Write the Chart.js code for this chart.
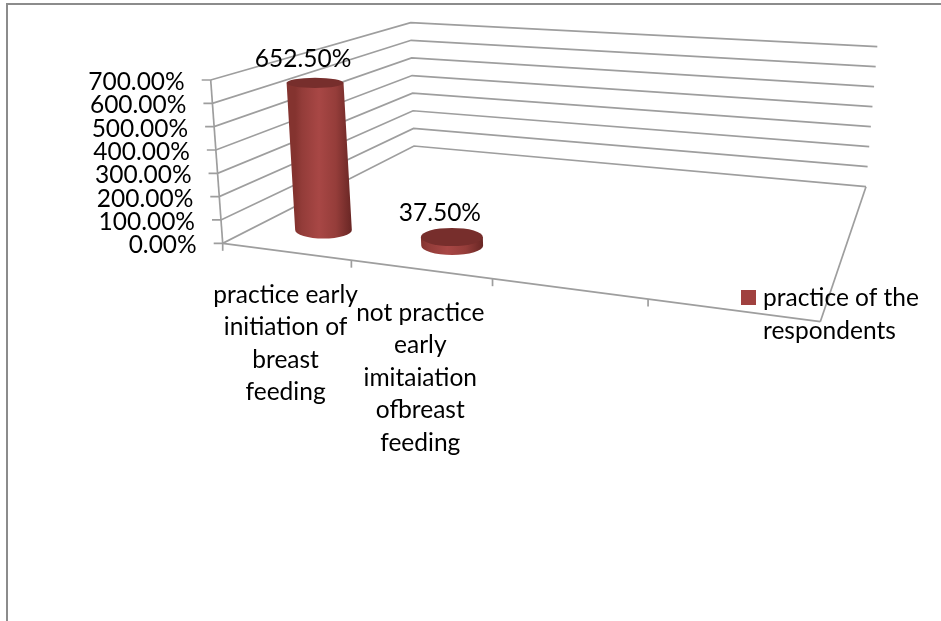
<!DOCTYPE html>
<html lang="en">
<head>
    <meta charset="UTF-8">
    <title>Practice of early initiation of breast feeding</title>
    <script src="https://cdn.jsdelivr.net/npm/chart.js"></script>
    <style>
        html, body { margin: 0; padding: 0; background: #fff; }
        canvas { display: block; }
    </style>
</head>
<body>
    <canvas id="chartCanvas" width="941" height="621"></canvas>

    <script>
        const categories = [
            ['practice early', 'initiation of', 'breast', 'feeding'],
            ['not practice', 'early', 'imitaiation', 'ofbreast', 'feeding'],
            '',
            ''
        ];
        const seriesName = ['practice of the', 'respondents'];
        const seriesValues = [652.5, 37.5, null, null];
        const tickLabels = ['0.00%', '100.00%', '200.00%', '300.00%', '400.00%', '500.00%', '600.00%', '700.00%'];

        const FONT = '24.5px Lato, sans-serif';
        const LINE_COLOR = '#9e9e9e';
        const BAR_COLOR = '#a0413f';

        // corners of the box, in order: front left, front right, back right, back left
        const floorCorners = [[222.7, 243.3], [820.3, 321.7], [866, 186.7], [414, 146]];
        const ceilCorners = [[210.7, 80], [855, 135], [877.3, 46.7], [410.7, 22.7]];
        const BAR_DEPTH = 0.167;

        // unit square -> quad
        function makeHomography(q) {
            const sx = q[0][0] - q[1][0] + q[2][0] - q[3][0];
            const sy = q[0][1] - q[1][1] + q[2][1] - q[3][1];
            const dx1 = q[1][0] - q[2][0], dx2 = q[3][0] - q[2][0];
            const dy1 = q[1][1] - q[2][1], dy2 = q[3][1] - q[2][1];
            const den = dx1 * dy2 - dx2 * dy1;
            const g = (sx * dy2 - dx2 * sy) / den;
            const h = (dx1 * sy - sx * dy1) / den;
            return (u, w) => {
                const d = g * u + h * w + 1;
                return [
                    (q[1][0] - q[0][0] + g * q[1][0]) * u / d + (q[3][0] - q[0][0] + h * q[3][0]) * w / d + q[0][0] / d,
                    (q[1][1] - q[0][1] + g * q[1][1]) * u / d + (q[3][1] - q[0][1] + h * q[3][1]) * w / d + q[0][1] / d
                ];
            };
        }
        const floorAt = makeHomography(floorCorners);
        const ceilAt = makeHomography(ceilCorners);

        // u along the category axis, w into the depth, v up the value axis (all 0..1)
        function project(u, w, v) {
            const a = floorAt(u, w), b = ceilAt(u, w);
            return [a[0] + (b[0] - a[0]) * v, a[1] + (b[1] - a[1]) * v];
        }

        function line(ctx, p, q) {
            ctx.beginPath();
            ctx.moveTo(p[0], p[1]);
            ctx.lineTo(q[0], q[1]);
            ctx.stroke();
        }

        function drawCylinder(ctx, u, halfU, v) {
            const bottom = project(u, BAR_DEPTH, 0);
            const top = project(u, BAR_DEPTH, v);
            const rxB = (project(u + halfU, BAR_DEPTH, 0)[0] - project(u - halfU, BAR_DEPTH, 0)[0]) / 2;
            const rxT = (project(u + halfU, BAR_DEPTH, v)[0] - project(u - halfU, BAR_DEPTH, v)[0]) / 2;
            // the ellipses flatten as they get nearer to eye level
            const ryB = rxB * 0.3;
            const ryT = rxT * (0.3 - 0.13 * v);

            const grad = ctx.createLinearGradient(bottom[0] - rxB, 0, bottom[0] + rxB, 0);
            grad.addColorStop(0, '#84332f');
            grad.addColorStop(0.12, '#933c39');
            grad.addColorStop(0.42, '#a84745');
            grad.addColorStop(0.72, '#953d3a');
            grad.addColorStop(1, '#682624');

            ctx.fillStyle = grad;
            ctx.beginPath();
            ctx.moveTo(top[0] - rxT, top[1]);
            ctx.lineTo(bottom[0] - rxB, bottom[1]);
            ctx.ellipse(bottom[0], bottom[1], rxB, ryB, 0, Math.PI, 0, true);
            ctx.lineTo(top[0] + rxT, top[1]);
            ctx.closePath();
            ctx.fill();

            ctx.fillStyle = '#772e2c';
            ctx.beginPath();
            ctx.ellipse(top[0], top[1], rxT, ryT, 0, 0, Math.PI * 2);
            ctx.fill();
            return top;
        }

        const box3d = {
            id: 'box3d',
            afterDatasetsDraw(chart) {
                const ctx = chart.ctx;
                const xs = chart.scales.x, ys = chart.scales.y;
                const toU = px => (px - xs.left) / xs.width;
                const toV = px => (ys.bottom - px) / ys.height;

                ctx.save();
                ctx.fillStyle = '#fff';
                ctx.fillRect(0, 0, chart.width, chart.height);

                // outer frame
                ctx.strokeStyle = '#8c8c8c';
                ctx.lineWidth = 2;
                ctx.beginPath();
                ctx.moveTo(7, chart.height);
                ctx.lineTo(7, 4);
                ctx.lineTo(chart.width, 4);
                ctx.stroke();

                // gridlines on the side and back walls, one per value tick
                ctx.strokeStyle = LINE_COLOR;
                ctx.lineWidth = 1.7;
                ys.ticks.forEach(t => {
                    const v = toV(ys.getPixelForValue(t.value));
                    const front = project(0, 0, v), corner = project(0, 1, v), end = project(1, 1, v);
                    ctx.beginPath();
                    ctx.moveTo(front[0] - 9, front[1]);
                    ctx.lineTo(front[0], front[1]);
                    ctx.lineTo(corner[0], corner[1]);
                    ctx.lineTo(end[0], end[1]);
                    ctx.stroke();
                });

                // value axis and floor edges
                line(ctx, project(0, 0, 1), project(0, 0, 0));
                line(ctx, project(1, 1, 0), project(1, 0, 0));
                line(ctx, project(1, 0, 0), project(0, 0, 0));

                // category tick marks
                for (let i = 0; i < xs.ticks.length; i++) {
                    const p = project(toU(xs.getPixelForValue(i) - xs.width / xs.ticks.length / 2), 0, 0);
                    line(ctx, p, [p[0], p[1] + 7.5]);
                }

                // cylinders, from the bar elements the controller laid out
                const labelPos = [];
                chart.getDatasetMeta(0).data.forEach((bar, i) => {
                    const val = seriesValues[i];
                    if (val === null) return;
                    const top = drawCylinder(ctx, toU(bar.x), bar.width / xs.width / 2, toV(ys.getPixelForValue(val)));
                    labelPos.push({ top, text: val.toFixed(2) + '%' });
                });

                ctx.fillStyle = '#000';
                ctx.font = FONT;
                ctx.textBaseline = 'middle';

                // value tick labels follow the slant of the axis
                ctx.textAlign = 'right';
                ys.ticks.forEach(t => {
                    const p = project(0, 0, toV(ys.getPixelForValue(t.value)));
                    ctx.fillText(t.label, p[0] - 26, p[1] + 2);
                });

                // data labels
                ctx.textAlign = 'center';
                labelPos.forEach(l => ctx.fillText(l.text, l.top[0] - 12, l.top[1] - 24));

                // category labels
                categories.forEach((lines, i) => {
                    if (!lines) return;
                    const p = project(toU(xs.getPixelForValue(i)), 0, 0);
                    lines.forEach((s, k) => ctx.fillText(s, p[0], p[1] + 43.5 + k * 32.5));
                });

                // legend
                ctx.fillStyle = BAR_COLOR;
                ctx.fillRect(741, 290, 15, 15);
                ctx.fillStyle = '#000';
                ctx.textAlign = 'left';
                seriesName.forEach((s, k) => ctx.fillText(s, 763, 298 + k * 33));

                ctx.restore();
            }
        };

        new Chart(document.getElementById('chartCanvas').getContext('2d'), {
            type: 'bar',
            data: {
                labels: categories,
                datasets: [{
                    label: seriesName.join(' '),
                    data: seriesValues,
                    backgroundColor: BAR_COLOR,
                    categoryPercentage: 1,
                    barPercentage: 0.46
                }]
            },
            options: {
                responsive: false,
                animation: false,
                plugins: { legend: { display: false }, tooltip: { enabled: false } },
                scales: {
                    x: { display: false },
                    y: {
                        display: false,
                        min: 0,
                        max: 700,
                        ticks: {
                            stepSize: 100,
                            callback: (value, i) => tickLabels[i]
                        }
                    }
                }
            },
            plugins: [box3d]
        });
    </script>
</body>
</html>
